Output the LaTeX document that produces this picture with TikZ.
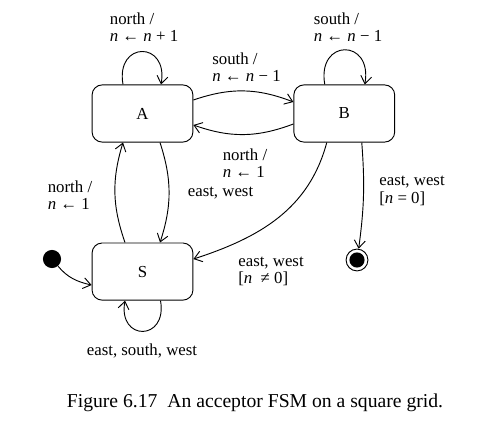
\documentclass[tikz,border=0pt]{standalone}
\usepackage{fontspec}
\setmainfont{Liberation Serif}
\usetikzlibrary{arrows.meta,positioning}

\begin{document}
\begin{tikzpicture}[x=0.595pt,y=0.595pt,node distance=59.5pt and 59.5pt,>={Straight Barb[length=4.5pt,width=6.5pt]},
font=\fontsize{10}{10.4}\selectfont,
state/.style={draw,rounded corners=6pt,minimum width=60pt,minimum height=34pt,line width=0.55pt},
lbl/.style={align=left,inner sep=0pt},
tr/.style={->,line width=0.55pt}]
\useasboundingbox (0,0) rectangle (501,425);
\node[state] (A) at (142.5,311.5) {A};
\node[state,right=of A] (B) {B};
\node[state,below=of A] (S) {S};
\node[circle,fill,inner sep=0pt,minimum size=10.8pt] (init) at (52,166) {};
\node[circle,draw,line width=0.55pt,inner sep=0pt,minimum size=13pt] (fin) at (357,165) {};
\node[circle,fill,inner sep=0pt,minimum size=9pt] (fdot) at (fin) {};
% self loops
\draw[tr] ([shift={(-19.5,0)}]A.north) to[out=100,in=80,looseness=3] ([shift={(18.5,0)}]A.north);
\draw[tr] ([shift={(-19.5,0)}]B.north) to[out=100,in=80,looseness=3] ([shift={(20.5,0)}]B.north);
\draw[tr] ([shift={(18,0)}]S.south) to[out=-80,in=-100,looseness=3] ([shift={(-17.5,0)}]S.south);
% transitions
\draw[tr] ([shift={(0,13.5)}]A.east) to[bend left=20] ([shift={(0,11.5)}]B.west);
\draw[tr] ([shift={(0,-10.5)}]B.west) to[bend left=20] ([shift={(0,-11.5)}]A.east);
\draw[tr] ([shift={(-17.5,0)}]S.north) to[bend left=18] ([shift={(-19.5,0)}]A.south);
\draw[tr] ([shift={(17.5,0)}]A.south) to[bend left=18] ([shift={(17.5,0)}]S.north);
\draw[tr] ([shift={(-17.5,0)}]B.south) to[out=-105,in=18] ([shift={(0,12.5)}]S.east);
\draw[tr] ([shift={(17.5,0)}]B.south) to[bend left=6] (fin);
\draw[tr] (init) to[out=-50,in=167] ([shift={(0,-13.5)}]S.west);
% labels
\node[lbl] (lA) at (144,398) {north /\\\textit{n} ← \textit{n} + 1};
\node[lbl] (lB) at (348,398) {south /\\\textit{n} ← \textit{n} − 1};
\node[lbl] (lAB) at (246.5,358) {south /\\\textit{n} ← \textit{n} − 1};
\node[lbl] (lBA) at (245,262) {north /\\\textit{n} ← 1};
\node[lbl] (lSA) at (70,230) {north /\\\textit{n} ← 1};
\node[lbl] (lAS) at (220.5,232) {east, west};
\node[lbl] (lBF) at (412,234) {east, west\\{}[\textit{n} = 0]};
\node[lbl] (lBS) at (271,153.5) {east, west\\{}[\textit{n}\ \ ≠ 0]};
\node[lbl] (lS) at (142,74) {east, south, west};
\node (cap) at (255,22) {\fontsize{11.7}{14}\selectfont Figure 6.17\hspace{0.5em}An acceptor FSM on a square grid.};
\end{tikzpicture}
\end{document}
